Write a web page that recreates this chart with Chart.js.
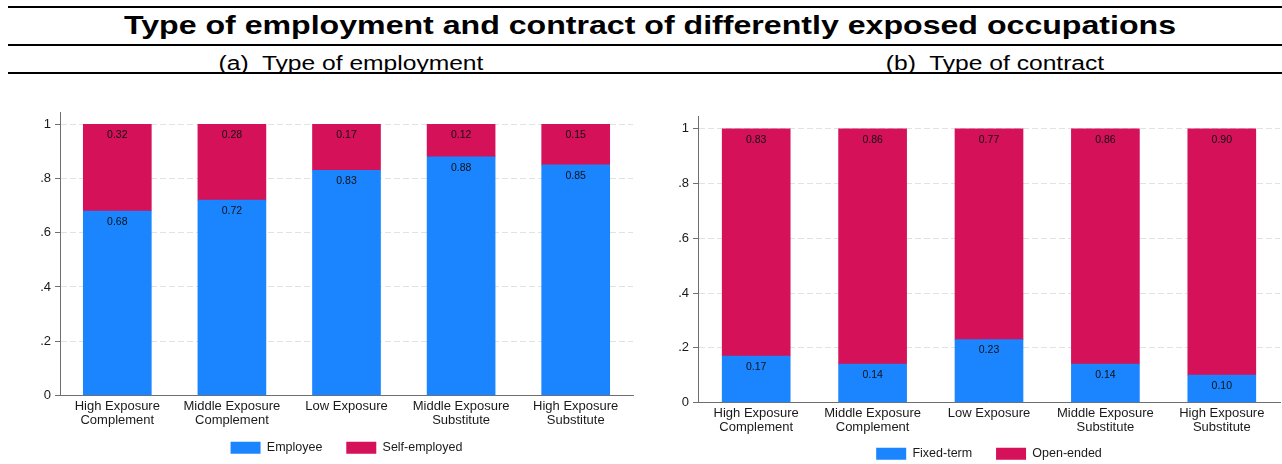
<!DOCTYPE html>
<html lang="en">
  <head>
    <meta charset="UTF-8" />
    <title>Type of employment and contract of differently exposed occupations</title>
    <script src="https://cdn.jsdelivr.net/npm/chart.js"></script>
    <style>
      body {
        margin: 0;
        width: 1282px;
        height: 464px;
        overflow: hidden;
        background: #ffffff;
        font-family: "Liberation Sans", Arial, sans-serif;
        color: #000;
        position: relative;
      }

      /* horizontal rules around the title block */
      .rule {
        position: absolute;
        left: 8px;
        right: 0;
        height: 2px;
        background: #000;
      }

      .title,
      .subtitle {
        position: absolute;
        white-space: pre;
        line-height: 1;
      }

      .title {
        top: 12px;
        left: 650px;
        font-size: 26px;
        font-weight: bold;
        transform: translateX(-50%) scaleX(1.235);
      }

      .subtitle {
        top: 53px;
        font-size: 20px;
        transform: translateX(-50%) scaleX(1.23);
      }

      .panel {
        position: absolute;
        top: 100px;
      }
    </style>
  </head>
  <body>
    <div class="rule" style="top: 6px"></div>
    <div class="title">Type of employment and contract of differently exposed occupations</div>
    <div class="rule" style="top: 44px"></div>
    <div class="subtitle" style="left: 351px">(a)  Type of employment</div>
    <div class="subtitle" style="left: 995px">(b)  Type of contract</div>
    <div class="rule" style="top: 72px"></div>

    <div class="panel" style="left: 0; width: 640px; height: 364px">
      <canvas id="employmentChart"></canvas>
    </div>
    <div class="panel" style="left: 640px; width: 642px; height: 370px">
      <canvas id="contractChart"></canvas>
    </div>

    <script>
      // occupation groups (x axis)
      const categories = [
        ["High Exposure", "Complement"],
        ["Middle Exposure", "Complement"],
        "Low Exposure",
        ["Middle Exposure", "Substitute"],
        ["High Exposure", "Substitute"]
      ];

      // (a) type of employment, shares
      const employee     = [0.68, 0.72, 0.83, 0.88, 0.85];
      const selfEmployed = [0.32, 0.28, 0.17, 0.12, 0.15];

      // (b) type of contract, shares
      const fixedTerm = [0.17, 0.14, 0.23, 0.14, 0.10];
      const openEnded = [0.83, 0.86, 0.77, 0.86, 0.90];

      // y axis ticks
      const yTicks      = [0, 0.2, 0.4, 0.6, 0.8, 1];
      const yTickLabels = ["0", ".2", ".4", ".6", ".8", "1"];

      const BLUE = "#1A85FF";
      const RED  = "#D41159";
      const FONT = '"Liberation Sans", Arial, sans-serif';

      // writes each segment's share just inside its top edge
      const barValueLabels = {
        id: "barValueLabels",
        afterDatasetsDraw(chart) {
          const ctx = chart.ctx;
          ctx.save();
          ctx.font = "10.5px " + FONT;
          ctx.fillStyle = "#111";
          ctx.textAlign = "center";
          ctx.textBaseline = "middle";
          chart.data.datasets.forEach((ds, i) => {
            chart.getDatasetMeta(i).data.forEach((bar, j) => {
              ctx.fillText(ds.data[j].toFixed(2), bar.x, bar.y + 11);
            });
          });
          ctx.restore();
        }
      };

      // default legend items, with a wider gap after all but the last one
      function spacedLegendItems(chart) {
        const items = Chart.defaults.plugins.legend.labels.generateLabels(chart);
        return items.map((item, i) =>
          i < items.length - 1 ? { ...item, text: item.text + "    " } : item
        );
      }

      function stackedShares(canvasId, series, layout) {
        return new Chart(document.getElementById(canvasId), {
          type: "bar",
          data: {
            labels: categories,
            datasets: series.map((s) => ({
              label: s.label,
              data: s.data,
              backgroundColor: s.color,
              borderWidth: 0,
              barThickness: 68
            }))
          },
          options: {
            responsive: true,
            maintainAspectRatio: false,
            animation: false,
            layout: {
              padding: { top: layout.top, right: layout.right, bottom: 0, left: 0 }
            },
            scales: {
              x: {
                stacked: true,
                grid: { display: false, drawTicks: false },
                border: { display: true, color: "#6f6f6f", width: 1 },
                ticks: {
                  color: "#1a1a1a",
                  font: { family: FONT, size: 13, lineHeight: 1.08 },
                  padding: 4,
                  maxRotation: 0,
                  autoSkip: false
                },
                afterFit: (scale) => { scale.height = layout.xHeight; }
              },
              y: {
                stacked: true,
                min: 0,
                max: layout.max,
                afterBuildTicks: (scale) => {
                  scale.ticks = yTicks.map((v) => ({ value: v }));
                },
                afterFit: (scale) => { scale.width = layout.yWidth; },
                grid: {
                  color: "#e2e2e2",
                  lineWidth: 1,
                  tickColor: "#6f6f6f",
                  tickLength: 5,
                  tickBorderDash: []
                },
                border: { display: true, color: "#6f6f6f", width: 1, dash: [6, 3] },
                ticks: {
                  color: "#1a1a1a",
                  font: { family: FONT, size: 13 },
                  padding: 4,
                  callback: (v) => yTickLabels[yTicks.indexOf(v)]
                }
              }
            },
            plugins: {
              legend: {
                position: "bottom",
                fullSize: false,
                labels: {
                  boxWidth: 30,
                  boxHeight: 12,
                  padding: 10,
                  color: "#1a1a1a",
                  font: { family: FONT, size: 12.5 },
                  generateLabels: spacedLegendItems
                }
              },
              tooltip: { enabled: false }
            }
          },
          plugins: [barValueLabels]
        });
      }

      stackedShares(
        "employmentChart",
        [
          { label: "Employee", data: employee, color: BLUE },
          { label: "Self-employed", data: selfEmployed, color: RED }
        ],
        { top: 12, right: 7, yWidth: 60, xHeight: 36, max: 1.045 }
      );

      stackedShares(
        "contractChart",
        [
          { label: "Fixed-term", data: fixedTerm, color: BLUE },
          { label: "Open-ended", data: openEnded, color: RED }
        ],
        { top: 16, right: 2, yWidth: 58, xHeight: 35, max: 1.047 }
      );
    </script>
  </body>
</html>
